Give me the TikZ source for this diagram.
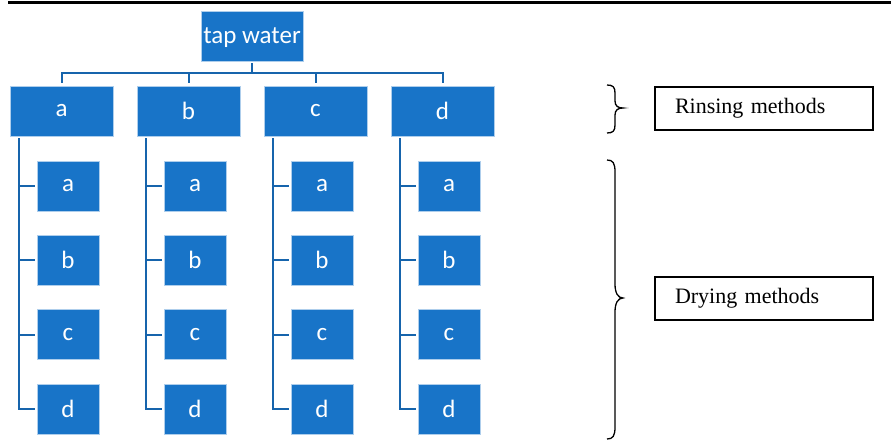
\documentclass[tikz,border=0pt]{standalone}
\usepackage{fontspec}
\setmainfont{Liberation Serif}
\newfontfamily\calib{Carlito}
\definecolor{boxblue}{RGB}{24,116,200}
\definecolor{lineblue}{RGB}{22,100,172}
\begin{document}
\begin{tikzpicture}[x=1pt,y=-1pt,
  bb/.style={rectangle, fill=boxblue, draw=white!65!boxblue, line width=0.6pt, text=white,
     font=\calib\fontsize{25}{28}\selectfont, inner sep=0pt},
  topbox/.style={bb, minimum width=102, minimum height=50, text depth=0pt},
  rbox/.style={bb, minimum width=103, minimum height=50},
  dbox/.style={bb, minimum width=62, minimum height=50},
  conn/.style={draw=lineblue, line width=2pt},
  lab/.style={rectangle, draw=black, line width=1.2pt, minimum width=218, minimum height=43,
     text width=178, inner xsep=20, align=left, font=\fontsize{22}{26}\selectfont},
  brc/.style={draw=black, line width=1.3pt}]
\useasboundingbox (0,0) rectangle (891,441);
\fill[white] (0,0) rectangle (891,441);
\draw[line width=3.5pt] (8,2.5) -- (891,2.5);

\node[topbox] (top) at (252,36) {tap water};
\foreach \n/\x/\t in {1/61.5/a,2/188.5/b,3/315.5/c,4/442.5/d}{
  \node[rbox] (r\n) at (\x,111) {\t};
  \draw[conn, shorten <=2pt, shorten >=3pt] (top.south) -- ++(0,12) -| (r\n.north);
  \foreach \m/\y/\s in {1/186/a,2/260/b,3/334.5/c,4/409/d}{
    \node[dbox] (d\n\m) at (\x+6.5,\y) {\s};
  }
  \coordinate (v\n) at ([xshift=9pt,yshift=-2pt]r\n.south west);
  \draw[conn, shorten >=2pt] (v\n) |- (d\n4.west);
  \foreach \m in {1,2,3}{
    \draw[conn, shorten >=2pt] (d\n\m.west -| v\n) -- (d\n\m.west);
  }
}

\draw[brc] (607,85) .. controls (613,85) and (615,87) .. (615,93) -- (615,101)
  .. controls (615,106) and (618,108) .. (623,108)
  .. controls (618,108) and (615,110) .. (615,115) -- (615,125)
  .. controls (615,131) and (613,133) .. (607,133);
\draw[brc] (607,160) .. controls (613,160) and (615,163) .. (615,172) -- (615,284)
  .. controls (615,293) and (618,298) .. (623,298)
  .. controls (618,298) and (615,303) .. (615,312) -- (615,427)
  .. controls (615,436) and (613,439) .. (607,439);

\node[lab] (rins) at (764,108.5) {Rinsing methods};
\node[lab] (dry) at (764,298.5) {Drying methods};
\end{tikzpicture}
\end{document}
